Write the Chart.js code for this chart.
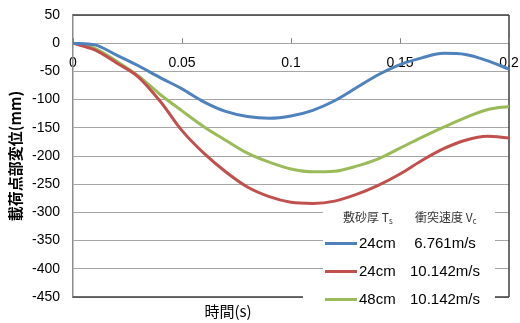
<!DOCTYPE html>
<html>
<head>
<meta charset="utf-8">
<script src="https://cdn.jsdelivr.net/npm/chart.js@4.4.0/dist/chart.umd.min.js"></script>
<style>
  html, body { margin: 0; padding: 0; background: #fff; }
  #wrap { width: 520px; height: 323px; }
</style>
</head>
<body>
<div id="wrap"><canvas id="c" width="520" height="323"></canvas></div>
<script>
// Time axis (s)
const times = [0, 0.01, 0.02, 0.03, 0.04, 0.05, 0.06, 0.07, 0.08, 0.09, 0.10,
               0.11, 0.12, 0.13, 0.14, 0.15, 0.16, 0.17, 0.18, 0.19, 0.20];

// Displacement at loading point (mm)
const disp24cmLow  = [0, -3, -21, -40, -61, -81, -104, -121, -130, -133, -129,
                      -119, -102, -79, -56, -38, -26, -18, -20, -31, -46];
const disp24cmHigh = [0, -12, -35, -60, -103, -155, -195, -228, -255, -272, -282,
                      -284, -280, -268, -252, -232, -208, -187, -172, -165, -168];
const disp48cmHigh = [0, -9, -32, -58, -91, -120, -148, -172, -195, -211, -223,
                      -228, -227, -218, -205, -186, -167, -149, -132, -118, -112];

// Legend content
const sandThickness = ['24cm', '24cm', '48cm'];
const impactVelocity = ['6.761m/s', '10.142m/s', '10.142m/s'];
const seriesColors = ['#4F81BD', '#C0504D', '#9BBB59'];

// Tick labels
const xTickLabels = ['0', '0.05', '0.1', '0.15', '0.2'];
const yTickLabels = ['50', '0', '-50', '-100', '-150', '-200', '-250', '-300', '-350', '-400', '-450'];

const toPoints = arr => arr.map((v, i) => ({ x: times[i], y: v }));

const overlay = {
  id: 'overlay',
  beforeDatasetsDraw(chart) {
    const ctx = chart.ctx;
    const a = chart.chartArea;
    ctx.save();
    // legend background hides the gridlines behind it
    ctx.fillStyle = '#fff';
    ctx.fillRect(323, 205, 172, 110);
    ctx.fillRect(303, 293, 22, 8);
    // plot frame
    ctx.strokeStyle = '#404040';
    ctx.lineWidth = 1.5;
    ctx.beginPath();
    ctx.moveTo(a.left, a.top); ctx.lineTo(a.right, a.top);
    ctx.moveTo(a.right, a.top); ctx.lineTo(a.right, a.bottom);
    ctx.moveTo(a.left, a.bottom); ctx.lineTo(303, a.bottom);
    ctx.moveTo(495, a.bottom); ctx.lineTo(a.right, a.bottom);
    ctx.stroke();
    // inward tick marks on the time axis
    const xs = chart.scales.x, ys = chart.scales.y;
    const y0 = ys.getPixelForValue(0);
    ctx.strokeStyle = '#808080';
    ctx.lineWidth = 1;
    ctx.beginPath();
    for (let i = 0; i < xTickLabels.length; i++) {
      const px = Math.round(xs.getPixelForValue(parseFloat(xTickLabels[i]))) + 0.5;
      ctx.moveTo(px, y0 - 5); ctx.lineTo(px, y0);
    }
    ctx.stroke();
    ctx.restore();
  },
  afterDraw(chart) {
    const ctx = chart.ctx;
    ctx.save();
    // axis titles
    ctx.fillStyle = '#000';
    ctx.textAlign = 'center';
    ctx.textBaseline = 'middle';
    ctx.font = '15px "Noto Sans CJK JP"';
    ctx.fillText('時間(s)', 228, 311);
    ctx.save();
    ctx.translate(15, 156);
    ctx.rotate(-Math.PI / 2);
    ctx.font = 'bold 15px "Noto Sans CJK JP"';
    ctx.fillText('載荷点部変位(mm)', 0, 0);
    ctx.restore();

    // legend header
    ctx.textAlign = 'left';
    ctx.fillStyle = '#333';
    ctx.font = '12px "Noto Sans CJK JP"';
    ctx.fillText('敷砂厚 T', 343, 217);
    let w = ctx.measureText('敷砂厚 T').width;
    ctx.font = '8px "Noto Sans CJK JP"';
    ctx.fillText('s', 343 + w, 221);
    ctx.font = '12px "Noto Sans CJK JP"';
    ctx.fillText('衝突速度 V', 415, 217);
    w = ctx.measureText('衝突速度 V').width;
    ctx.font = '8px "Noto Sans CJK JP"';
    ctx.fillText('c', 415 + w, 221);

    // legend entries
    const rowY = [243.5, 271.5, 299.5];
    for (let i = 0; i < 3; i++) {
      ctx.strokeStyle = seriesColors[i];
      ctx.lineWidth = 3;
      ctx.beginPath();
      ctx.moveTo(325, rowY[i]); ctx.lineTo(357, rowY[i]);
      ctx.stroke();
      ctx.fillStyle = '#000';
      ctx.font = '15px "Liberation Sans", Arial, sans-serif';
      ctx.textAlign = 'left';
      ctx.fillText(sandThickness[i], 359, rowY[i]);
      ctx.textAlign = 'center';
      ctx.fillText(impactVelocity[i], 445, rowY[i]);
    }
    ctx.restore();
  }
};

new Chart(document.getElementById('c'), {
  type: 'line',
  data: {
    datasets: [
      { label: sandThickness[0] + ' ' + impactVelocity[0], data: toPoints(disp24cmLow),
        borderColor: seriesColors[0] },
      { label: sandThickness[1] + ' ' + impactVelocity[1], data: toPoints(disp24cmHigh),
        borderColor: seriesColors[1] },
      { label: sandThickness[2] + ' ' + impactVelocity[2], data: toPoints(disp48cmHigh),
        borderColor: seriesColors[2] }
    ]
  },
  options: {
    responsive: false,
    animation: false,
    devicePixelRatio: 1,
    layout: { padding: { left: 0, top: 15, right: 11, bottom: 26 } },
    elements: {
      line: { borderWidth: 3, cubicInterpolationMode: 'monotone', fill: false },
      point: { radius: 0 }
    },
    plugins: { legend: { display: false }, tooltip: { enabled: false } },
    scales: {
      x: {
        type: 'linear',
        position: { y: 0 },
        min: 0, max: 0.2,
        grid: { display: false, drawTicks: false },
        border: { display: false },
        ticks: {
          stepSize: 0.05,
          autoSkip: false,
          maxRotation: 0,
          padding: 12,
          color: '#000',
          font: { family: '"Liberation Sans", Arial, sans-serif', size: 14 },
          callback: (v, i) => xTickLabels[i]
        },
        afterFit: s => { s.paddingLeft = 0; s.paddingRight = 0; }
      },
      y: {
        type: 'linear',
        position: 'left',
        min: -450, max: 50,
        grid: { color: '#a6a6a6', lineWidth: 1, drawTicks: false },
        border: { color: '#8c8c8c', width: 1.5 },
        ticks: {
          stepSize: 50,
          padding: 13,
          color: '#000',
          font: { family: '"Liberation Sans", Arial, sans-serif', size: 14 },
          callback: (v, i, all) => yTickLabels[all.length - 1 - i]
        },
        afterFit: s => { s.width = 73; s.paddingTop = 0; s.paddingBottom = 0; }
      }
    }
  },
  plugins: [overlay]
});
</script>
</body>
</html>
